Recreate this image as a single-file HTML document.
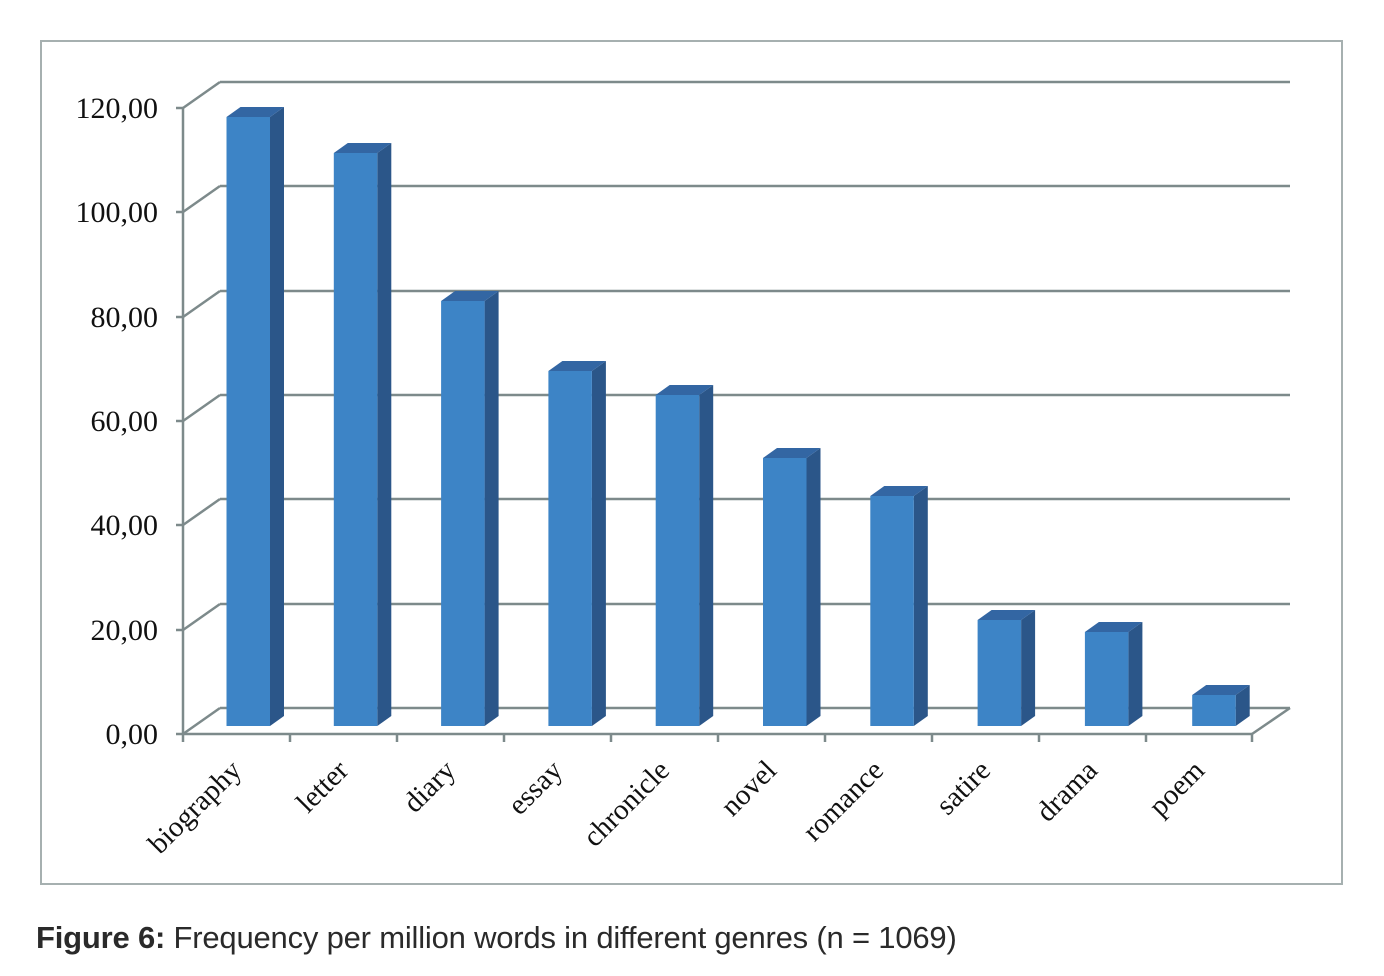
<!DOCTYPE html>
<html><head><style>
body{margin:0;background:#fff;width:1384px;height:976px;overflow:hidden}
.cap{position:absolute;left:36px;top:920px;font-family:"Liberation Sans",sans-serif;font-size:31px;color:#2a2a2a;letter-spacing:-0.2px}
</style></head><body>
<svg width="1384" height="976" style="position:absolute;left:0;top:0">
<rect x="41" y="41" width="1301" height="843" fill="none" stroke="#a6b0b0" stroke-width="2"/>
<g stroke="#7d8a8b" stroke-width="2.5" fill="none">
<line x1="220" y1="82" x2="1290" y2="82"/><line x1="183" y1="108" x2="220" y2="82"/>
<line x1="220" y1="186" x2="1290" y2="186"/><line x1="183" y1="212" x2="220" y2="186"/>
<line x1="220" y1="291" x2="1290" y2="291"/><line x1="183" y1="317" x2="220" y2="291"/>
<line x1="220" y1="395" x2="1290" y2="395"/><line x1="183" y1="421" x2="220" y2="395"/>
<line x1="220" y1="499" x2="1290" y2="499"/><line x1="183" y1="525" x2="220" y2="499"/>
<line x1="220" y1="604" x2="1290" y2="604"/><line x1="183" y1="630" x2="220" y2="604"/>
<line x1="220" y1="708" x2="1290" y2="708"/><line x1="183" y1="734" x2="220" y2="708"/>
<line x1="183" y1="108" x2="183" y2="742"/>
<line x1="176" y1="108" x2="183" y2="108"/><line x1="176" y1="212" x2="183" y2="212"/><line x1="176" y1="317" x2="183" y2="317"/><line x1="176" y1="421" x2="183" y2="421"/><line x1="176" y1="525" x2="183" y2="525"/><line x1="176" y1="630" x2="183" y2="630"/><line x1="176" y1="734" x2="183" y2="734"/>
<line x1="183" y1="734" x2="1252" y2="734"/><line x1="1252" y1="734" x2="1290" y2="708"/>
<line x1="290" y1="734" x2="290" y2="742"/><line x1="397" y1="734" x2="397" y2="742"/><line x1="504" y1="734" x2="504" y2="742"/><line x1="611" y1="734" x2="611" y2="742"/><line x1="718" y1="734" x2="718" y2="742"/><line x1="825" y1="734" x2="825" y2="742"/><line x1="932" y1="734" x2="932" y2="742"/><line x1="1039" y1="734" x2="1039" y2="742"/><line x1="1146" y1="734" x2="1146" y2="742"/><line x1="1252" y1="734" x2="1252" y2="742"/>
</g>
<g font-family="Liberation Serif,serif" font-size="30" fill="#111" text-anchor="end">
<text x="158" y="118">120,00</text><text x="158" y="222">100,00</text><text x="158" y="327">80,00</text><text x="158" y="431">60,00</text><text x="158" y="535">40,00</text><text x="158" y="640">20,00</text><text x="158" y="744">0,00</text>
</g>
<g id="bars"></g>
<g font-family="Liberation Serif,serif" font-size="29" fill="#111" text-anchor="end">
<text transform="translate(243,772) rotate(-45)">biography</text>
<text transform="translate(350,772) rotate(-45)">letter</text>
<text transform="translate(457,772) rotate(-45)">diary</text>
<text transform="translate(564,772) rotate(-45)">essay</text>
<text transform="translate(671,772) rotate(-45)">chronicle</text>
<text transform="translate(778,772) rotate(-45)">novel</text>
<text transform="translate(885,772) rotate(-45)">romance</text>
<text transform="translate(992,772) rotate(-45)">satire</text>
<text transform="translate(1099,772) rotate(-45)">drama</text>
<text transform="translate(1206,772) rotate(-45)">poem</text>
</g>
</svg>
<div class="cap"><b>Figure 6:</b> Frequency per million words in different genres (n = 1069)</div>
<script>
var tops=[117,153,301,371,395,458,496,620,632,695],g=document.getElementById('bars'),s='';
tops.forEach(function(t,i){var x=226.5+i*107.3,w=43.5,b=726,dx=14,dy=10;
s+='<polygon points="'+(x+w)+','+t+' '+(x+w+dx)+','+(t-dy)+' '+(x+w+dx)+','+(b-dy)+' '+(x+w)+','+b+'" fill="#2b5689"/>';
s+='<polygon points="'+x+','+t+' '+(x+dx)+','+(t-dy)+' '+(x+w+dx)+','+(t-dy)+' '+(x+w)+','+t+'" fill="#3366a3"/>';
s+='<rect x="'+x+'" y="'+t+'" width="'+w+'" height="'+(b-t)+'" fill="#3d84c6"/>';});
g.innerHTML=s;
</script>
</body></html>
